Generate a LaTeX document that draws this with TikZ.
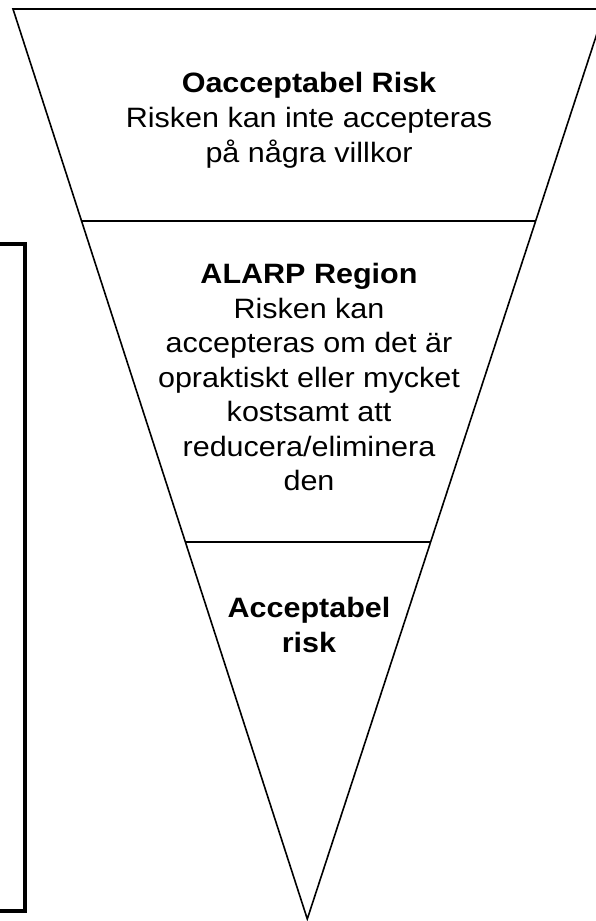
\documentclass[tikz,border=0pt]{standalone}
\usepackage{fontspec}
\setmainfont{Liberation Sans}
\usetikzlibrary{calc}
\newcommand{\wtxt}[1]{\scalebox{1.09}[1]{#1}}
\begin{document}
\begin{tikzpicture}[x=1pt,y=-1pt,
  edge/.style={line width=1.6pt},
  frame/.style={line width=4pt},
  lbl/.style={anchor=base,inner sep=0pt,font=\fontsize{28}{34}\selectfont},
  hd/.style={lbl,font=\fontsize{28}{34}\selectfont\bfseries}]
\useasboundingbox (0,0) rectangle (596,921);
\clip (0,0) rectangle (596,921);
% funnel
\coordinate (tl) at (13,9);
\coordinate (tr) at (605,9);
\coordinate (ap) at (307.3,919);
\draw[edge,line join=miter] (tl) -- (tr) -- (ap) -- cycle;
\coordinate (l1) at ($(tl)!{212/910}!(ap)$);
\coordinate (r1) at ($(tr)!{212/910}!(ap)$);
\coordinate (l2) at ($(tl)!{533/910}!(ap)$);
\coordinate (r2) at ($(tr)!{533/910}!(ap)$);
\draw[edge] (l1) -- (r1);
\draw[edge] (l2) -- (r2);
% left frame
\draw[frame] (-20,244) -- (25,244) -- (25,911) -- (-20,911);
% texts
\node[hd]  (a1) at (309,92)  {\wtxt{Oacceptabel Risk}};
\node[lbl] (a2) at (309,127) {\wtxt{Risken kan inte accepteras}};
\node[lbl] (a3) at (309,162) {\wtxt{på några villkor}};
\node[hd]  (b1) at (309,283) {\wtxt{ALARP Region}};
\node[lbl] (b2) at (309,318) {\wtxt{Risken kan}};
\node[lbl] (b3) at (309,352.5) {\wtxt{accepteras om det är}};
\node[lbl] (b4) at (309,387) {\wtxt{opraktiskt eller mycket}};
\node[lbl] (b5) at (309,421.5) {\wtxt{kostsamt att}};
\node[lbl] (b6) at (309,456) {\wtxt{reducera/eliminera}};
\node[lbl] (b7) at (309,490.5) {\wtxt{den}};
\node[hd]  (c1) at (309,617) {\wtxt{Acceptabel}};
\node[hd]  (c2) at (309,652) {\wtxt{risk}};
\end{tikzpicture}
\end{document}
